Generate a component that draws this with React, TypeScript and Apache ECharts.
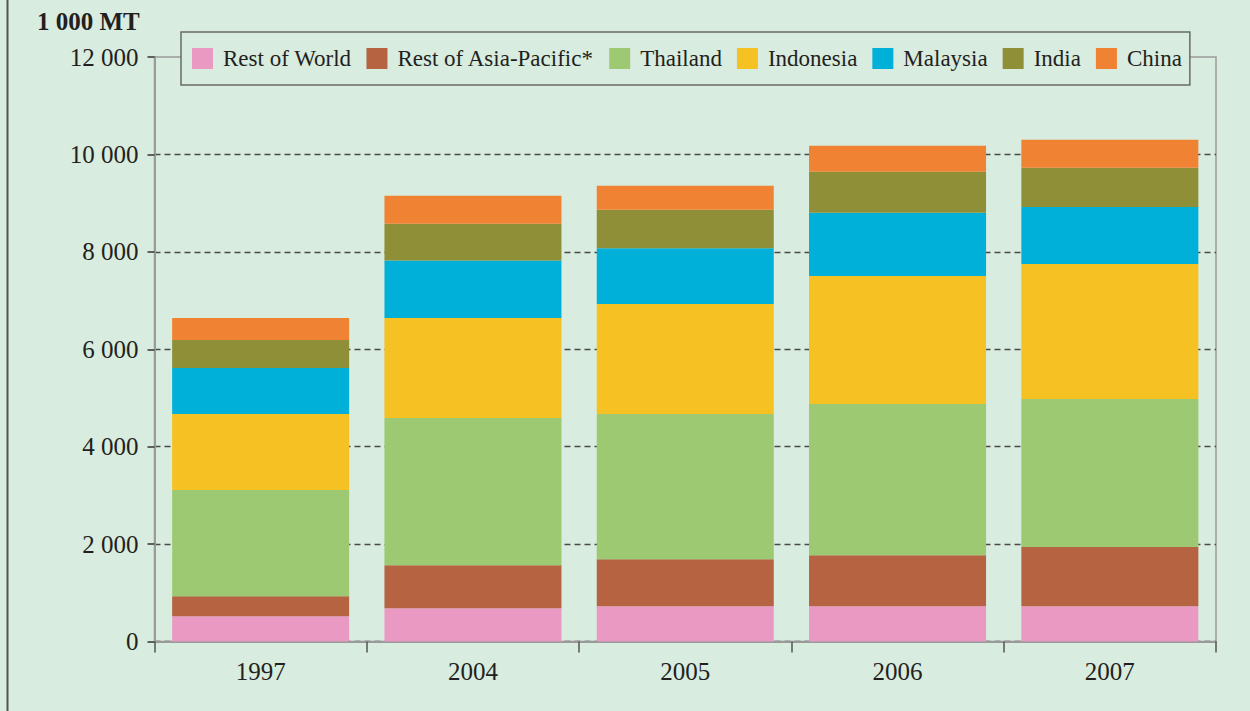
import React, { useEffect, useRef } from "react";
import * as echarts from "echarts";

const categories = ["1997", "2004", "2005", "2006", "2007"];
const restOfWorld = [520, 684, 725, 725, 725];
const restOfAsiaPacific = [411, 884, 966, 1048, 1213];
const thailand = [2178, 3020, 2979, 3103, 3040];
const indonesia = [1561, 2055, 2260, 2630, 2774];
const malaysia = [945, 1177, 1145, 1294, 1171];
const india = [576, 754, 787, 843, 802];
const china = [452, 575, 493, 534, 575];

const seriesNames = [
  "Rest of World",
  "Rest of Asia-Pacific*",
  "Thailand",
  "Indonesia",
  "Malaysia",
  "India",
  "China",
];
const seriesData = [restOfWorld, restOfAsiaPacific, thailand, indonesia, malaysia, india, china];
const seriesColors = ["#ea99c3", "#b56341", "#9cc972", "#f5c123", "#00b0d8", "#8f8f38", "#f08233"];

const yMin = 0;
const yMax = 12000;
const yInterval = 2000;
const unitLabel = "1 000 MT";

const BG = "#d8ecdf";
const FONT = "'Liberation Serif', 'Times New Roman', serif";
const TEXT = "#231f20";
const GRID_DASH = "#4a4a4a";

export default function App() {
  const ref = useRef<HTMLDivElement>(null);
  useEffect(() => {
    if (!ref.current) return;
    const chart = echarts.init(ref.current, null, { renderer: "svg" });
    chart.setOption({
      animation: false,
      backgroundColor: BG,
      textStyle: { fontFamily: FONT, color: TEXT },
      grid: {
        left: 154.5,
        right: 34,
        top: 57,
        bottom: 69.5,
        show: true,
        borderColor: "#9a9a9a",
        borderWidth: 1.5,
        backgroundColor: "transparent",
      },
      legend: {
        left: 181,
        top: 32,
        padding: [15, 8, 15, 11],
        itemWidth: 21,
        itemHeight: 21,
        itemGap: 15,
        borderColor: "#6a6a6a",
        borderWidth: 1.5,
        backgroundColor: BG,
        icon: "rect",
        z: 10,
        textStyle: { fontFamily: FONT, fontSize: 23, color: TEXT, padding: [0, 0, 0, 5] },
        data: seriesNames,
      },
      graphic: [
        {
          type: "line",
          shape: { x1: 7.5, y1: 0, x2: 7.5, y2: 711 },
          style: { stroke: "#555555", lineWidth: 2 },
        },
        {
          type: "text",
          left: 37,
          top: 9,
          style: {
            text: unitLabel,
            font: `bold 25px ${FONT}`,
            fill: TEXT,
          },
        },
      ],
      xAxis: {
        type: "category",
        data: categories,
        axisLine: { lineStyle: { color: "#9a9a9a", width: 2 } },
        axisTick: { show: true, length: 11, lineStyle: { color: "#555555", width: 1.5 } },
        axisLabel: { fontFamily: FONT, fontSize: 25, color: TEXT, margin: 17 },
      },
      yAxis: {
        type: "value",
        min: yMin,
        max: yMax,
        interval: yInterval,
        axisLine: { show: true, lineStyle: { color: "#9a9a9a", width: 2 } },
        axisTick: { show: true, length: 7, lineStyle: { color: "#333333", width: 1.5 } },
        axisLabel: {
          fontFamily: FONT,
          fontSize: 25,
          color: TEXT,
          margin: 16,
          formatter: (v: number) => String(v).replace(/\B(?=(\d{3})+(?!\d))/g, " "),
        },
        splitLine: {
          show: true,
          lineStyle: {
            color: [GRID_DASH, GRID_DASH, GRID_DASH, GRID_DASH, GRID_DASH, GRID_DASH, "rgba(0,0,0,0)"],
            type: [6, 4],
            width: 1.3,
          },
        },
      },
      series: seriesNames.map((name, i) => ({
        name,
        type: "bar",
        stack: "total",
        barWidth: 177,
        data: seriesData[i],
        itemStyle: { color: seriesColors[i] },
      })),
    });
    return () => chart.dispose();
  }, []);
  return (
    <div
      ref={ref}
      style={{ position: "fixed", left: 0, top: 0, width: 1250, height: 711 }}
    />
  );
}
